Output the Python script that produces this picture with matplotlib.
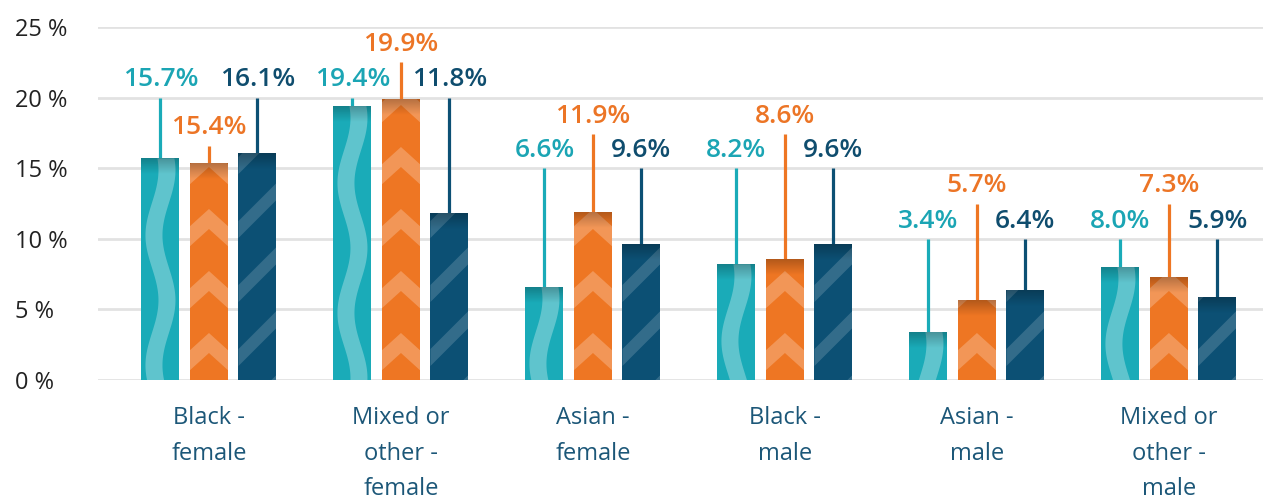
import numpy as np
import matplotlib.pyplot as plt
from matplotlib.patches import Polygon

# ── data ──────────────────────────────────────────
groups = ["Black -\nfemale", "Mixed or\nother -\nfemale", "Asian -\nfemale",
          "Black -\nmale", "Asian -\nmale", "Mixed or\nother -\nmale"]
teal_vals   = [15.7, 19.4, 6.6, 8.2, 3.4, 8.0]
orange_vals = [15.4, 19.9, 11.9, 8.6, 5.7, 7.3]
navy_vals   = [16.1, 11.8, 9.6, 9.6, 6.4, 5.9]

yticks      = [0, 5, 10, 15, 20, 25]
ytick_text  = ["0 %", "5 %", "10 %", "15 %", "20 %", "25 %"]

# ── label layout (top of each leader line, in %) ─
teal_tops   = [20, 20, 15, 15, 10, 10]
orange_tops = [16.6, 22.5, 17.4, 17.4, 12.5, 12.5]
navy_tops   = [20, 20, 15, 15, 10, 10]

TEAL, ORANGE, NAVY = "#1aabb8", "#ee7623", "#0c5074"
TEAL_TXT, ORANGE_TXT, NAVY_TXT = "#1ba5b4", "#ec7526", "#0f4d6e"
CAT_TXT = "#1c5778"
FONT = "Open Sans"

W, H, DPI = 1263, 500, 100
fig = plt.figure(figsize=(W / DPI, H / DPI), dpi=DPI)
ax_l, ax_r, ax_b, ax_t = 98, 1263, 380, 27
ax = fig.add_axes([ax_l / W, 1 - ax_b / H, (ax_r - ax_l) / W, (ax_b - ax_t) / H])

XLIM = (-0.578, 5.49)
YLIM = (0, 25)
ax.set_xlim(*XLIM)
ax.set_ylim(*YLIM)
ax.set_autoscale_on(False)

# pixels per data unit
xppu = (ax_r - ax_l) / (XLIM[1] - XLIM[0])
yppu = (ax_b - ax_t) / (YLIM[1] - YLIM[0])


def px_x(p):
    return p / xppu


def px_y(p):
    return p / yppu


def clip_add(patch, rect):
    ax.add_patch(patch)
    patch.set_clip_path(rect)


def top_shade(rect):
    x0, w, h = rect.get_x(), rect.get_width(), rect.get_height()
    grad = np.zeros((40, 2, 4))
    grad[:, :, 3] = np.linspace(0.25, 0.0, 40)[:, None]
    im = ax.imshow(grad, extent=[x0, x0 + w, h - px_y(16), h], aspect="auto",
                   origin="upper", zorder=3.5, interpolation="bilinear")
    im.set_clip_path(rect)


def wave(rect):
    # light meandering band, phase taken from the bar top
    x0, w, h = rect.get_x(), rect.get_width(), rect.get_height()
    cx = x0 + w / 2
    ys = np.linspace(0, h, 160)
    depth = (h - ys) * yppu
    xc = cx + px_x(6.5) * np.cos(2 * np.pi * (depth - 12) / 130)
    half = px_x(8.5)
    pts = np.vstack([np.column_stack([xc - half, ys]),
                     np.column_stack([xc + half, ys])[::-1]])
    clip_add(Polygon(pts, closed=True, fc="white", ec="none", alpha=0.3, zorder=3), rect)


def chevrons(rect):
    # stacked light chevrons, measured up from the baseline
    x0, w, h = rect.get_x(), rect.get_width(), rect.get_height()
    cx = x0 + w / 2
    hpx = h * yppu
    d, t, period = 19, 20, 62
    apex = 47 - period
    while apex - d - t < hpx:
        a = px_y(apex)
        pts = [(x0 - px_x(2), a - px_y(d)), (cx, a), (x0 + w + px_x(2), a - px_y(d)),
               (x0 + w + px_x(2), a - px_y(d + t)), (cx, a - px_y(t)),
               (x0 - px_x(2), a - px_y(d + t))]
        clip_add(Polygon(pts, closed=True, fc="white", ec="none", alpha=0.24, zorder=3), rect)
        apex += period


def stripes(rect):
    # diagonal light stripes rising to the right
    x0, w, h = rect.get_x(), rect.get_width(), rect.get_height()
    hpx = h * yppu
    wpx = w * xppu
    s, t, period = 1.0, 17, 64
    b = -50
    while b < hpx + 10:
        pts = [(x0, px_y(b)), (x0 + w, px_y(b + s * wpx)),
               (x0 + w, px_y(b + s * wpx + t)), (x0, px_y(b + t))]
        clip_add(Polygon(pts, closed=True, fc="white", ec="none", alpha=0.16, zorder=3), rect)
        b += period


x = np.arange(len(groups))
offset = 48.5 / xppu
bar_w = 38 / xppu

series = [
    (teal_vals, teal_tops, TEAL, TEAL_TXT, -offset, wave),
    (orange_vals, orange_tops, ORANGE, ORANGE_TXT, 0.0, chevrons),
    (navy_vals, navy_tops, NAVY, NAVY_TXT, offset, stripes),
]

for vals, tops, color, tcolor, dx, deco in series:
    xs = x + dx
    bars = ax.bar(xs, vals, width=bar_w, color=color, zorder=2, linewidth=0)
    ax.vlines(xs, vals, tops, color=color, linewidth=2.3, zorder=1.5)
    for rect, xi, v, tp in zip(bars, xs, vals, tops):
        deco(rect)
        top_shade(rect)
        ax.annotate(f"{v:.1f}%", xy=(xi, tp), xytext=(0, 8), textcoords="offset points",
                    ha="center", va="baseline", fontsize=19, fontweight="semibold",
                    color=tcolor, family=FONT, annotation_clip=False)

# category labels under each group
for xi, name in zip(x, groups):
    ax.annotate(name, xy=(xi, 0), xytext=(0, -19), textcoords="offset points",
                ha="center", va="top", fontsize=17, color=CAT_TXT, family=FONT,
                linespacing=1.62, annotation_clip=False)

ax.set_xticks([])
ax.set_yticks(yticks)
ax.set_yticklabels(ytick_text, fontsize=17, color="#222222", family=FONT)
for lab in ax.get_yticklabels():
    lab.set_horizontalalignment("left")
ax.tick_params(axis="y", length=0, pad=60)
ax.yaxis.grid(True, color="#e2e2e2", linewidth=2)
ax.set_axisbelow(True)
for sp in ax.spines.values():
    sp.set_visible(False)

fig.savefig("out.png", dpi=DPI)
